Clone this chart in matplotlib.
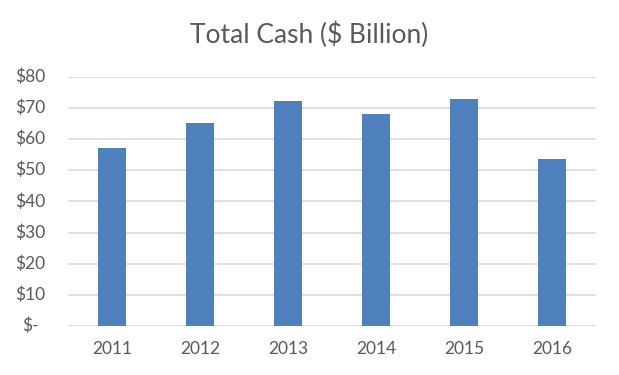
import matplotlib
matplotlib.use("Agg")
from matplotlib import pyplot as plt

years = ["2011", "2012", "2013", "2014", "2015", "2016"]
cash = [57.1, 65.1, 72.2, 68.0, 72.8, 53.5]
yticks = [0, 10, 20, 30, 40, 50, 60, 70, 80]
ylabels = ["$-", "$10", "$20", "$30", "$40", "$50", "$60", "$70", "$80"]

plt.rcParams['font.family'] = ['Lato', 'DejaVu Sans']
grey = '#595959'

fig = plt.figure(figsize=(6.19, 3.75), dpi=100)
ax = fig.add_axes([68/619, 1-326/375, (596-68)/619, (326-76.7)/375])

x = range(len(years))
ax.bar(x, cash, width=0.31, color='#4F81BD', zorder=3)
ax.set_xlim(-0.5, len(years)-0.5)
ax.set_ylim(0, 80)
ax.set_xticks(list(x))
ax.set_xticklabels(years, fontsize=12.5, color=grey)
ax.tick_params(axis='x', length=0, pad=11)

ax.set_yticks(yticks)
ax.set_yticklabels([])
ax.tick_params(axis='y', length=0)
ax.grid(axis='y', color='#D9D9D9', linewidth=1.1, zorder=0)
for s in ax.spines.values():
    s.set_visible(False)

# accounting style labels: $ left, number right
ytr = ax.get_yaxis_transform()
for v, lab in zip(yticks, ylabels):
    if v == 0:
        ax.text(-46/528, v, lab, transform=ytr, ha='left', va='center',
                fontsize=12.5, color=grey)
    else:
        ax.text(-23/528, v, lab, transform=ytr, ha='right', va='center',
                fontsize=12.5, color=grey)

fig.text(0.5, 1-35/375, "Total Cash ($ Billion)", ha='center', va='center',
         fontsize=19, color=grey, fontweight='normal')

fig.savefig("out.png", dpi=100)
